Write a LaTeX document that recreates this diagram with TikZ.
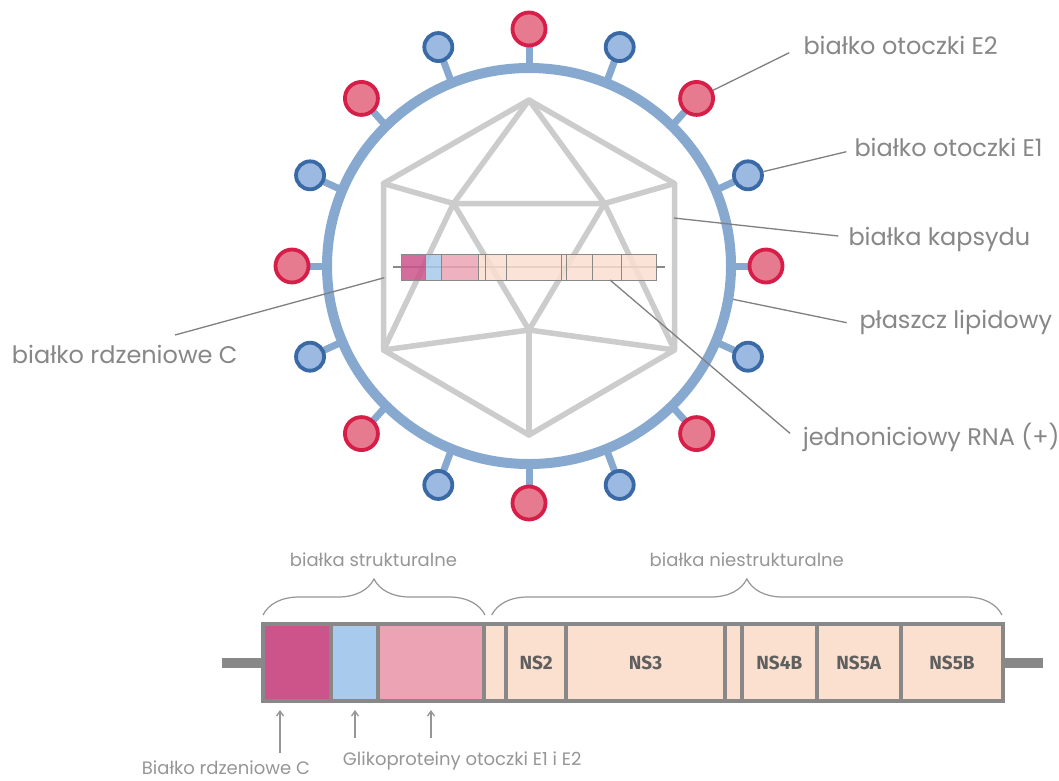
\documentclass[tikz,border=0pt]{standalone}
\usepackage{fontspec}
\setmainfont{Poppins}
\newfontfamily\segfont{Fira Sans}
\usetikzlibrary{arrows.meta,decorations.pathreplacing}

\definecolor{envblue}{RGB}{135,169,208}
\definecolor{e2line}{RGB}{214,30,72}
\definecolor{e2fill}{RGB}{230,122,142}
\definecolor{e1line}{RGB}{58,106,166}
\definecolor{e1fill}{RGB}{156,185,225}
\definecolor{capsidgray}{RGB}{204,204,204}
\definecolor{leadergray}{RGB}{128,128,128}
\definecolor{labelgray}{RGB}{135,135,135}
\definecolor{notegray}{RGB}{150,150,150}
\definecolor{barline}{RGB}{136,136,136}
\definecolor{nstext}{RGB}{95,95,95}
\definecolor{coreC}{RGB}{204,84,138}
\definecolor{gpEone}{RGB}{168,202,236}
\definecolor{gpEtwo}{RGB}{236,164,180}
\definecolor{nspeach}{RGB}{251,224,208}

\begin{document}
\begin{tikzpicture}[x=1pt, y=-1pt,
    stem/.style={draw=envblue, line width=7pt},
    envelope/.style={draw=envblue, line width=10pt},
    spikeE2/.style={circle, draw=e2line, fill=e2fill, line width=3.8pt,
        minimum size=33pt, inner sep=0pt},
    spikeE1/.style={circle, draw=e1line, fill=e1fill, line width=3.8pt,
        minimum size=28pt, inner sep=0pt},
    capsid/.style={draw=capsidgray, line width=5.5pt, line join=round, line cap=round},
    leader/.style={draw=leadergray, line width=1.3pt},
    callout/.style={anchor=base west, inner sep=0pt, text=labelgray,
        font=\fontsize{24}{28}\selectfont},
    note/.style={inner sep=0pt, text=notegray, font=\fontsize{18}{22}\selectfont},
    seg/.style={draw=barline, line width=4pt, minimum height=77pt, inner sep=0pt,
        text=nstext, font=\segfont\bfseries\fontsize{19}{22}\selectfont},
    stub/.style={draw=barline, line width=10pt},
    bracket/.style={draw=notegray, line width=1.2pt, decorate,
        decoration={brace, amplitude=36pt}},
    pointer/.style={draw=notegray, line width=1.3pt, -{Straight Barb[length=5pt, width=7pt]}}
]
\fill[white] (0,0) rectangle (1059,780);
\useasboundingbox (0,0) rectangle (1059,780);

% glycoprotein stems
\foreach \a [count=\k] in {0,22.5,...,337.5} {
    \coordinate (m\k) at ({529+202*cos(\a)},{266-198*sin(\a)});
    \coordinate (p\k) at ({529+237*cos(\a)},{266-237*sin(\a)});
    \draw[stem] (m\k) -- (p\k);
}

% lipid envelope
\draw[envelope] (529,266) ellipse [x radius=202, y radius=198];

% icosahedral capsid
\coordinate (top) at (529,100);
\coordinate (ul) at (383.5,183.5);
\coordinate (ur) at (674.5,183.5);
\coordinate (il) at (453.5,203.5);
\coordinate (ir) at (604.5,203.5);
\coordinate (ll) at (383.5,350);
\coordinate (lr) at (674.5,350);
\coordinate (ib) at (529,330);
\coordinate (bot) at (529,435);
\draw[capsid] (ul) -- (top) -- (ur) -- (lr) -- (bot) -- (ll) -- cycle;
\draw[capsid] (top) -- (il) -- (ir) -- cycle;
\draw[capsid] (ul) -- (il) -- (ll) -- (ib) -- (lr) -- (ir) -- (ur);
\draw[capsid] (il) -- (ib) -- (ir);
\draw[capsid] (ib) -- (bot);

% genome inside the capsid
\draw[barline, line width=2.5pt] (392.7,267) -- (665,267);
\foreach \l/\r/\c in {401.7/425/coreC, 425/441/gpEone, 441/478.3/gpEtwo,
        478.3/485/nspeach, 485/506/nspeach, 506/561.7/nspeach, 561.7/566.7/nspeach,
        566.7/592.3/nspeach, 592.3/621.7/nspeach, 621.7/656.7/nspeach}
    \filldraw[fill=\c, fill opacity=.85, draw=barline, line width=1pt] (\l,254) rectangle (\r,280);

% E1 / E2 glycoproteins
\foreach \k in {1,3,...,15}
    \node[spikeE2] (gpE2-\k) at (p\k) {};
\foreach \k in {2,4,...,16}
    \node[spikeE1] (gpE1-\k) at (p\k) {};

% labels of the virion
\node[callout] (lblE2) at (803.3,54.3) {białko otoczki E2};
\node[callout] (lblE1) at (854.3,156.7) {białko otoczki E1};
\node[callout] (lblCapsid) at (848.3,245) {białka kapsydu};
\node[callout] (lblEnv) at (859.3,328.3) {płaszcz lipidowy};
\node[callout] (lblRna) at (802.7,445) {jednoniciowy RNA (+)};
\node[callout] (lblCore) at (11.7,363.3) {białko rdzeniowe C};

\coordinate (capR) at (674,218);
\coordinate (envR) at (733,299.3);
\coordinate (rnaB) at (610,280);
\coordinate (capL) at (384.3,277.7);

\draw[leader] (gpE2-3) -- ([shift={(-14,-1.6)}]lblE2.base west);
\draw[leader] (gpE1-2) -- ([shift={(-8,-5)}]lblE1.base west);
\draw[leader] (capR) -- ([shift={(-10,-9)}]lblCapsid.base west);
\draw[leader] (envR) -- ([shift={(-12.6,-5.6)}]lblEnv.base west);
\draw[leader] (rnaB) -- ([shift={(-12.7,-11.7)}]lblRna.base west);
\draw[leader] (capL) -- ([shift={(163.3,-28.3)}]lblCore.base west);

% polyprotein
\node[seg, fill=coreC, minimum width=68pt] (segC) at (297,662.5) {};
\node[seg, fill=gpEone, minimum width=47.3pt] (segE1) at (354.65,662.5) {};
\node[seg, fill=gpEtwo, minimum width=106pt] (segE2) at (431.3,662.5) {};
\node[seg, fill=nspeach, minimum width=22pt] (segP7) at (495.3,662.5) {};
\node[seg, fill=nspeach, minimum width=59.7pt] (segNS2) at (536.15,662.5) {NS2};
\node[seg, fill=nspeach, minimum width=159pt] (segNS3) at (645.5,662.5) {NS3};
\node[seg, fill=nspeach, minimum width=17pt] (segNS4A) at (733.5,662.5) {};
\node[seg, fill=nspeach, minimum width=74.5pt] (segNS4B) at (779.25,662.5) {NS4B};
\node[seg, fill=nspeach, minimum width=84.5pt] (segNS5A) at (858.75,662.5) {NS5A};
\node[seg, fill=nspeach, minimum width=102pt] (segNS5B) at (952,662.5) {NS5B};

\coordinate (utrL) at (222,662.5);
\coordinate (utrR) at (1043,662.5);
\draw[stub] (utrL) -- (segC.west);
\draw[stub] (segNS5B.east) -- (utrR);

% groups
\draw[bracket] (263,615) -- (485,615);
\draw[bracket] (491.7,615) -- (1002,615);
\node[note, anchor=base] (lblStruct) at (373.5,566.7) {białka strukturalne};
\node[note, anchor=base] (lblNonStruct) at (746.8,566.7) {białka niestrukturalne};

% pointers to structural proteins
\coordinate (tailC) at (280,753);
\coordinate (headC) at (280,710);
\coordinate (tailE1) at (355,738);
\coordinate (headE1) at (355,710);
\coordinate (tailE2) at (431,738);
\coordinate (headE2) at (431,710);
\draw[pointer] (tailC) -- (headC);
\draw[pointer] (tailE1) -- (headE1);
\draw[pointer] (tailE2) -- (headE2);

\node[note, anchor=base west] (lblCoreNote) at (141.7,774) {Białko rdzeniowe C};
\node[note, anchor=base west] (lblGpNote) at (342.7,765) {Glikoproteiny otoczki E1 i E2};

\end{tikzpicture}
\end{document}
